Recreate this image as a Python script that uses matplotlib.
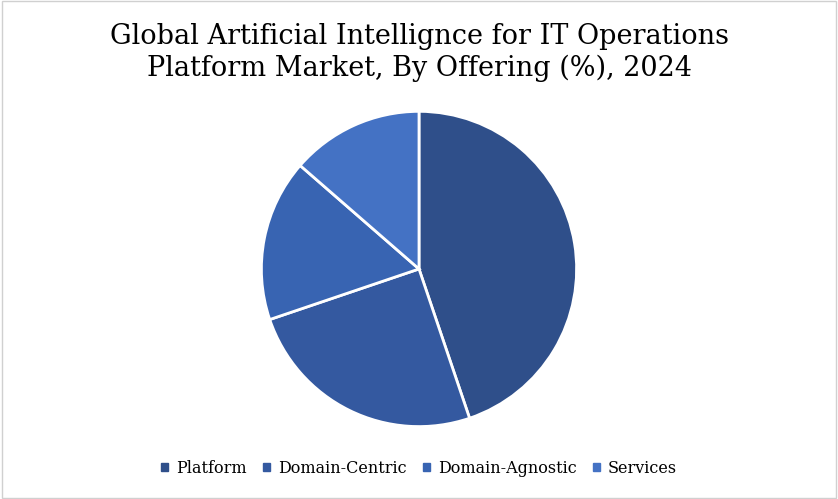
import matplotlib.pyplot as plt
from matplotlib.patches import Rectangle

labels = ['Platform', 'Domain-Centric', 'Domain-Agnostic', 'Services']
shares = [44.8, 25.0, 16.6, 13.6]
colors = ['#2f4f8a', '#3459a0', '#3864b2', '#4472c4']

plt.rcParams['font.family'] = 'DejaVu Serif'
fig = plt.figure(figsize=(8.38, 4.99), dpi=100)
fig.patches.append(Rectangle((0.002, 0.002), 0.996, 0.996, transform=fig.transFigure,
                             fill=False, edgecolor='#d0d0d0', linewidth=1))

ax = fig.add_axes([0.2, 0.142, 0.6, 0.638])
ax.pie(shares, colors=colors, startangle=90, counterclock=False,
       wedgeprops=dict(edgecolor='white', linewidth=2))
ax.set_xlim(-1.01, 1.01)
ax.set_ylim(-1.01, 1.01)
ax.set_aspect('equal')

fig.text(0.5, 0.895, 'Global Artificial Intellignce for IT Operations\nPlatform Market, By Offering (%), 2024',
         ha='center', va='center', fontsize=19.5, linespacing=1.2)

handles = [plt.Rectangle((0, 0), 1, 1, color=c) for c in colors]
fig.legend(handles, labels, loc='center', bbox_to_anchor=(0.5, 0.062), ncol=4, frameon=False,
           fontsize=11.5, handlelength=0.45, handleheight=0.45, handletextpad=0.5, columnspacing=1.0)

fig.savefig('out.png', dpi=100)
